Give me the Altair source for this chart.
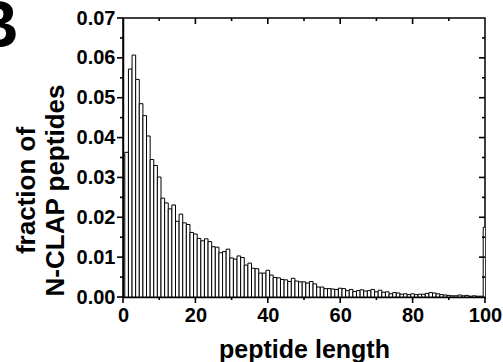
import altair as alt
import pandas as pd
import numpy as np

lengths = list(range(1, 101))
fractions = [
    0.0363, 0.0572, 0.0607, 0.0546, 0.0485, 0.0455, 0.0404, 0.0345, 0.0330, 0.0301,
    0.0248, 0.0236, 0.0221, 0.0231, 0.0190, 0.0208, 0.0186, 0.0182, 0.0162, 0.0158,
    0.0147, 0.0141, 0.0146, 0.0139, 0.0126, 0.0125, 0.0111, 0.0114, 0.0120, 0.0098,
    0.0095, 0.0103, 0.0099, 0.0080, 0.0085, 0.0072, 0.0071, 0.0060, 0.0060, 0.0067,
    0.0055, 0.0049, 0.0048, 0.0044, 0.0043, 0.0039, 0.0047, 0.0040, 0.0038, 0.0038,
    0.0035, 0.0039, 0.0033, 0.0025, 0.0025, 0.0021, 0.0021, 0.0020, 0.0019, 0.0022,
    0.0021, 0.0016, 0.0019, 0.0014, 0.0016, 0.0018, 0.0015, 0.0016, 0.0019, 0.0013,
    0.0017, 0.0012, 0.0013, 0.0008, 0.0011, 0.0010, 0.0007, 0.0008, 0.0006, 0.0008,
    0.0006, 0.0007, 0.0007, 0.0009, 0.0011, 0.0010, 0.0008, 0.0006, 0.0005, 0.0004,
    0.0003, 0.0003, 0.0005, 0.0003, 0.0004, 0.0002, 0.0003, 0.0002, 0.0002, 0.0175,
]

y_major = [0.0, 0.01, 0.02, 0.03, 0.04, 0.05, 0.06, 0.07]
y_minor = [0.005, 0.015, 0.025, 0.035, 0.045, 0.055, 0.065]
x_major = [0, 20, 40, 60, 80, 100]
x_minor = [10, 30, 50, 70, 90]

FONT = "Liberation Sans"
W, H = 362, 279
XMAX, YMAX = 100, 0.07
DX = XMAX / W   # data units per pixel
DY = YMAX / H
MAJ, MIN, TW = 6, 3, 1.6  # tick lengths and thickness (px)

x_axis = alt.Axis(
    values=x_major, title="peptide length", format="d", labelOverlap=False,
    ticks=False, labelFontSize=20, labelFont=FONT, labelFontWeight="bold", labelColor="black",
    labelPadding=8, labelFlush=False,
    titleFontSize=25, titleFont=FONT, titleFontWeight="bold", titleColor="black",
    titleBaseline="alphabetic", titleY=60, titleX=W / 2, titleAlign="center",
    domainColor="black", domainWidth=1.5, grid=False,
)
y_axis = alt.Axis(
    values=y_major, title=["fraction of", "N-CLAP peptides"], format=".2f", labelOverlap=False,
    ticks=False, labelFontSize=20, labelFont=FONT, labelFontWeight="bold", labelColor="black",
    labelPadding=8,
    titleFontSize=26, titleFont=FONT, titleFontWeight="bold", titleColor="black",
    titleAngle=-90, titleBaseline="alphabetic", titleAlign="center",
    titleX=-89, titleY=172, titleLineHeight=29,
    domainColor="black", domainWidth=1.5, grid=False,
)

df = pd.DataFrame({"length": lengths, "fraction": fractions})
df["x0"] = df["length"] - 0.5
df["x1"] = df["length"] + 0.5
df["y1"] = 0.0

xscale = alt.Scale(domain=[0, XMAX], nice=False, zero=False)
yscale = alt.Scale(domain=[0, YMAX], nice=False)

bars = alt.Chart(df).mark_rect(fill="white", stroke="black", strokeWidth=1, clip=True).encode(
    x=alt.X("x0:Q", scale=xscale, axis=x_axis),
    x2="x1:Q",
    y=alt.Y("fraction:Q", scale=yscale, axis=y_axis),
    y2="y1:Q",
)

# all frame ticks as thin filled rectangles
rows = []
hw_x = TW / 2 * DX
hw_y = TW / 2 * DY


def htick(v, x_from, x_to):
    rows.append({"x0": x_from, "x1": x_to, "fraction": v - hw_y, "y1": v + hw_y})


def vtick(v, y_from, y_to):
    rows.append({"x0": v - hw_x, "x1": v + hw_x, "fraction": y_from, "y1": y_to})


for v in y_major:
    htick(v, 0, -MAJ * DX)
for v in y_minor:
    htick(v, 0, -MIN * DX)
for v in x_major:
    vtick(v, 0, -MAJ * DY)
for v in x_minor:
    vtick(v, 0, -MIN * DY)
for v in y_major[1:-1]:
    htick(v, XMAX, XMAX - MAJ * DX)
for v in y_minor:
    htick(v, XMAX, XMAX - MIN * DX)
for v in x_major[1:-1]:
    vtick(v, YMAX, YMAX - MAJ * DY)
for v in x_minor:
    vtick(v, YMAX, YMAX - MIN * DY)
ticks_df = pd.DataFrame(rows)

frame_ticks = alt.Chart(ticks_df).mark_rect(color="black", strokeWidth=0).encode(
    x=alt.X("x0:Q", scale=xscale, axis=x_axis), x2="x1:Q",
    y=alt.Y("fraction:Q", scale=yscale, axis=y_axis), y2="y1:Q",
)

panel_label = alt.Chart(pd.DataFrame({"t": ["B"]})).mark_text(
    font=FONT, fontWeight="bold", fontSize=66, align="left", baseline="alphabetic", color="black"
).encode(text="t:N", x=alt.value(-152), y=alt.value(29))

chart = alt.layer(bars, frame_ticks, panel_label).properties(
    width=W, height=H,
    autosize=alt.AutoSizeParams(type="none"),
    padding={"left": 123, "top": 18, "right": 18, "bottom": 65},
).configure_view(stroke="black", strokeWidth=1.5)

chart.save("out.html", embed_options={"renderer": "svg", "actions": False})
